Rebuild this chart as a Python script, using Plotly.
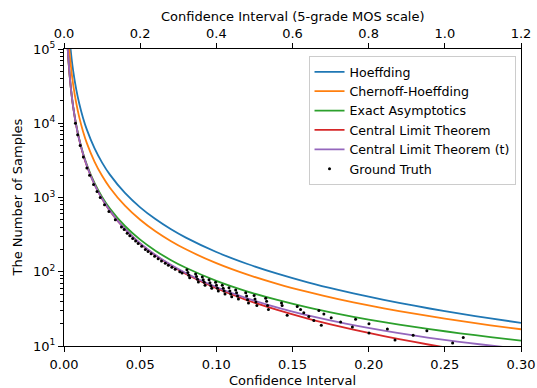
import plotly.graph_objects as go

# ---------------- data ----------------
eps_hoeff = [0.004, 0.005, 0.006, 0.008, 0.010, 0.0125, 0.015, 0.02, 0.025, 0.03, 0.04, 0.05, 0.06, 0.07,
             0.08, 0.10, 0.12, 0.14, 0.16, 0.18, 0.20, 0.22, 0.24, 0.26, 0.28, 0.30]
n_hoeff = [115275, 73776, 51233, 28819, 18444, 11804, 8197, 4611, 2951, 2049, 1152.8, 737.8, 512.3, 376.4,
           288.2, 184.4, 128.1, 94.1, 72.0, 56.9, 46.1, 38.1, 32.0, 27.3, 23.5, 20.5]

eps_chern = [0.0034, 0.004, 0.005, 0.006, 0.008, 0.010, 0.0125, 0.015, 0.02, 0.025, 0.03, 0.04, 0.05, 0.06,
             0.07, 0.08, 0.10, 0.12, 0.14, 0.16, 0.18, 0.20, 0.22, 0.24, 0.26, 0.28, 0.30]
n_chern = [104027, 75193, 48168, 33476, 18865, 12094, 7757, 5398, 3050, 1960, 1367, 775.6, 500.6, 350.5,
           259.7, 200.5, 130.4, 92.0, 68.7, 53.4, 42.8, 35.2, 29.5, 25.2, 21.8, 19.0, 16.8]

eps_exact = [0.0024, 0.003, 0.004, 0.005, 0.006, 0.008, 0.010, 0.0125, 0.015, 0.02, 0.025, 0.03, 0.04, 0.05,
             0.06, 0.07, 0.08, 0.10, 0.12, 0.14, 0.16, 0.18, 0.20, 0.22, 0.24, 0.26, 0.28, 0.30]
n_exact = [104639, 67073, 37826, 24270, 16897, 9553, 6145, 3958, 2765, 1575, 1020, 717.3, 413.2, 270.6,
           192.2, 144.3, 113.0, 75.4, 54.5, 41.7, 33.1, 27.1, 22.7, 19.4, 16.9, 14.8, 13.2, 11.8]

eps_clt = [0.0024, 0.003, 0.004, 0.005, 0.006, 0.008, 0.010, 0.0125, 0.015, 0.02, 0.025, 0.03, 0.04, 0.05,
           0.06, 0.07, 0.08, 0.10, 0.12, 0.14, 0.16, 0.18, 0.20, 0.22, 0.24, 0.26, 0.28, 0.30]
n_clt = [103993, 66556, 37438, 23960, 16639, 9359, 5990, 3834, 2662, 1497.5, 958.4, 665.6, 374.4, 239.6,
         166.4, 122.2, 93.6, 59.9, 41.6, 30.6, 23.4, 18.5, 15.0, 12.4, 10.4, 8.86, 7.64, 6.66]

eps_t = [0.00245, 0.004469, 0.00774, 0.01095, 0.01732, 0.0245, 0.0347, 0.0449, 0.0551, 0.0637, 0.0784,
         0.0879, 0.1020, 0.1123, 0.1263, 0.1475, 0.1630, 0.1849, 0.2188, 0.2387, 0.2510, 0.2653, 0.2825, 0.3036]
n_t = [100000, 30000, 10000, 5000, 2000, 1000, 500, 300, 200, 150, 100,
       80, 60, 50, 40, 30, 25, 20, 15, 13, 12, 11, 10, 9]

eps_gt = [0.00751, 0.00897, 0.01062, 0.0127, 0.01503, 0.0168, 0.0194, 0.0217, 0.0238, 0.0266, 0.0295, 0.0337,
          0.0377, 0.0415, 0.0451, 0.0487, 0.0534, 0.0572, 0.0618, 0.0665, 0.0708, 0.0760,
          0.0395, 0.0432, 0.0470, 0.0510, 0.0552, 0.0595, 0.0640, 0.0685, 0.0730, 0.0775,
          0.0807, 0.0813, 0.0819, 0.0825,
          0.0864, 0.0870, 0.0876, 0.0882,
          0.0908, 0.0914, 0.0920, 0.0926,
          0.0952, 0.0958, 0.0964, 0.0970,
          0.0995, 0.1001, 0.1007, 0.1013,
          0.1039, 0.1045, 0.1051, 0.1057,
          0.1083, 0.1089, 0.1095, 0.1101,
          0.1127, 0.1133, 0.1139, 0.1145,
          0.1193, 0.1199, 0.1205, 0.1211,
          0.1248, 0.1254, 0.1260, 0.1266,
          0.1324, 0.1330, 0.1336, 0.1342,
          0.1428, 0.1432, 0.1465, 0.1531, 0.1553, 0.1574, 0.1607, 0.1640, 0.1673, 0.1689, 0.1706, 0.1754,
          0.1816, 0.1893, 0.1914, 0.2002, 0.2002, 0.2123, 0.2173, 0.2292, 0.2382, 0.2551, 0.2621]
n_gt = [10000, 7000, 5000, 3500, 2500, 2000, 1500, 1200, 1000, 800, 650, 500,
        400, 330, 280, 240, 200, 175, 150, 130, 115, 100,
        370, 305, 260, 220, 188, 162, 140, 122, 108, 96,
        106, 98, 90, 83,
        93, 86, 79, 73,
        85, 78, 72, 66,
        78, 71, 65, 60,
        72, 66, 60, 55,
        66, 60, 55, 50,
        61, 55, 50, 46,
        57, 52, 47, 43,
        52, 47, 42, 38,
        48, 43, 39, 35,
        44, 40, 35, 31,
        38, 35, 26, 34, 31, 28, 25, 22, 30, 19, 27, 24,
        21, 18, 23, 20, 15, 17, 12, 14, 16, 11, 13]

x_ticks = [0.00, 0.05, 0.10, 0.15, 0.20, 0.25, 0.30]
x2_ticks = [0.0, 0.2, 0.4, 0.6, 0.8, 1.0, 1.2]
y_ticks = [10, 100, 1000, 10000, 100000]
y_ticktext = ["10<sup>1</sup>", "10<sup>2</sup>", "10<sup>3</sup>", "10<sup>4</sup>", "10<sup>5</sup>"]
y_minor = [m * 10 ** k for k in range(1, 5) for m in range(2, 10)]

names = ["Hoeffding", "Chernoff-Hoeffding", "Exact Asymptotics", "Central Limit Theorem",
         "Central Limit Theorem (t)", "Ground Truth"]
colors = ["#1f77b4", "#ff7f0e", "#2ca02c", "#d62728", "#9467bd"]
x_title = "Confidence Interval"
x2_title = "Confidence Interval (5-grade MOS scale)"
y_title = "The Number of Samples"

FONT = "DejaVu Sans"
FS = 13
LFS = 12.6

fig = go.Figure()
series = [(eps_hoeff, n_hoeff), (eps_chern, n_chern), (eps_exact, n_exact), (eps_clt, n_clt), (eps_t, n_t)]
for (xs, ys), nm, c in zip(series, names, colors):
    fig.add_trace(go.Scatter(x=xs, y=ys, mode="lines", name=nm,
                             line=dict(color=c, width=1.8, shape="spline", smoothing=0.6)))
fig.add_trace(go.Scatter(x=eps_gt, y=n_gt, mode="markers", name=names[5],
                         marker=dict(color="black", size=3)))
# invisible trace to carry the top axis
fig.add_trace(go.Scatter(x=x2_ticks, y=[None] * len(x2_ticks), xaxis="x2", mode="lines",
                         showlegend=False, hoverinfo="skip"))

axis_common = dict(showgrid=False, zeroline=False, showline=True, linecolor="black", linewidth=1.2,
                   ticks="outside", ticklen=5, tickwidth=1, tickcolor="black", automargin=False,
                   tickfont=dict(family=FONT, size=FS, color="black"))

fig.update_layout(
    width=537, height=388,
    margin=dict(l=64, r=16, t=49, b=42),
    paper_bgcolor="white", plot_bgcolor="white",
    font=dict(family=FONT, size=FS, color="black"),
    xaxis=dict(range=[0, 0.30], tickvals=x_ticks, tickformat=".2f", ticklabelstandoff=1,
               **axis_common),
    xaxis2=dict(range=[0, 1.2], tickvals=x2_ticks, tickformat=".1f", overlaying="x", side="top",
                anchor="y", ticklabelstandoff=0,
                **axis_common),
    yaxis=dict(type="log", range=[1, 5], tickvals=y_ticks, ticktext=y_ticktext, mirror=True,
               minor=dict(tickvals=y_minor, ticks="outside", ticklen=2.5, tickcolor="black", tickwidth=0.8),
               **axis_common),
    legend=dict(x=0.988, y=0.976, xanchor="right", yanchor="top", bgcolor="rgba(255,255,255,0.8)",
                bordercolor="#cccccc", borderwidth=1, font=dict(family=FONT, size=LFS),
                tracegroupgap=0, itemwidth=30),
    showlegend=True,
    annotations=[
        dict(text=x_title, xref="paper", yref="paper", x=0.5, y=0, yshift=-34, xanchor="center",
             yanchor="middle", showarrow=False, font=dict(family=FONT, size=FS)),
        dict(text=x2_title, xref="paper", yref="paper", x=0.5, y=1, yshift=33, xanchor="center",
             yanchor="middle", showarrow=False, font=dict(family=FONT, size=FS)),
        dict(text=y_title, xref="paper", yref="paper", x=0, y=0.5, xshift=-47, xanchor="center",
             yanchor="middle", textangle=-90, showarrow=False, font=dict(family=FONT, size=FS)),
    ],
)

fig.write_html("out.html")
